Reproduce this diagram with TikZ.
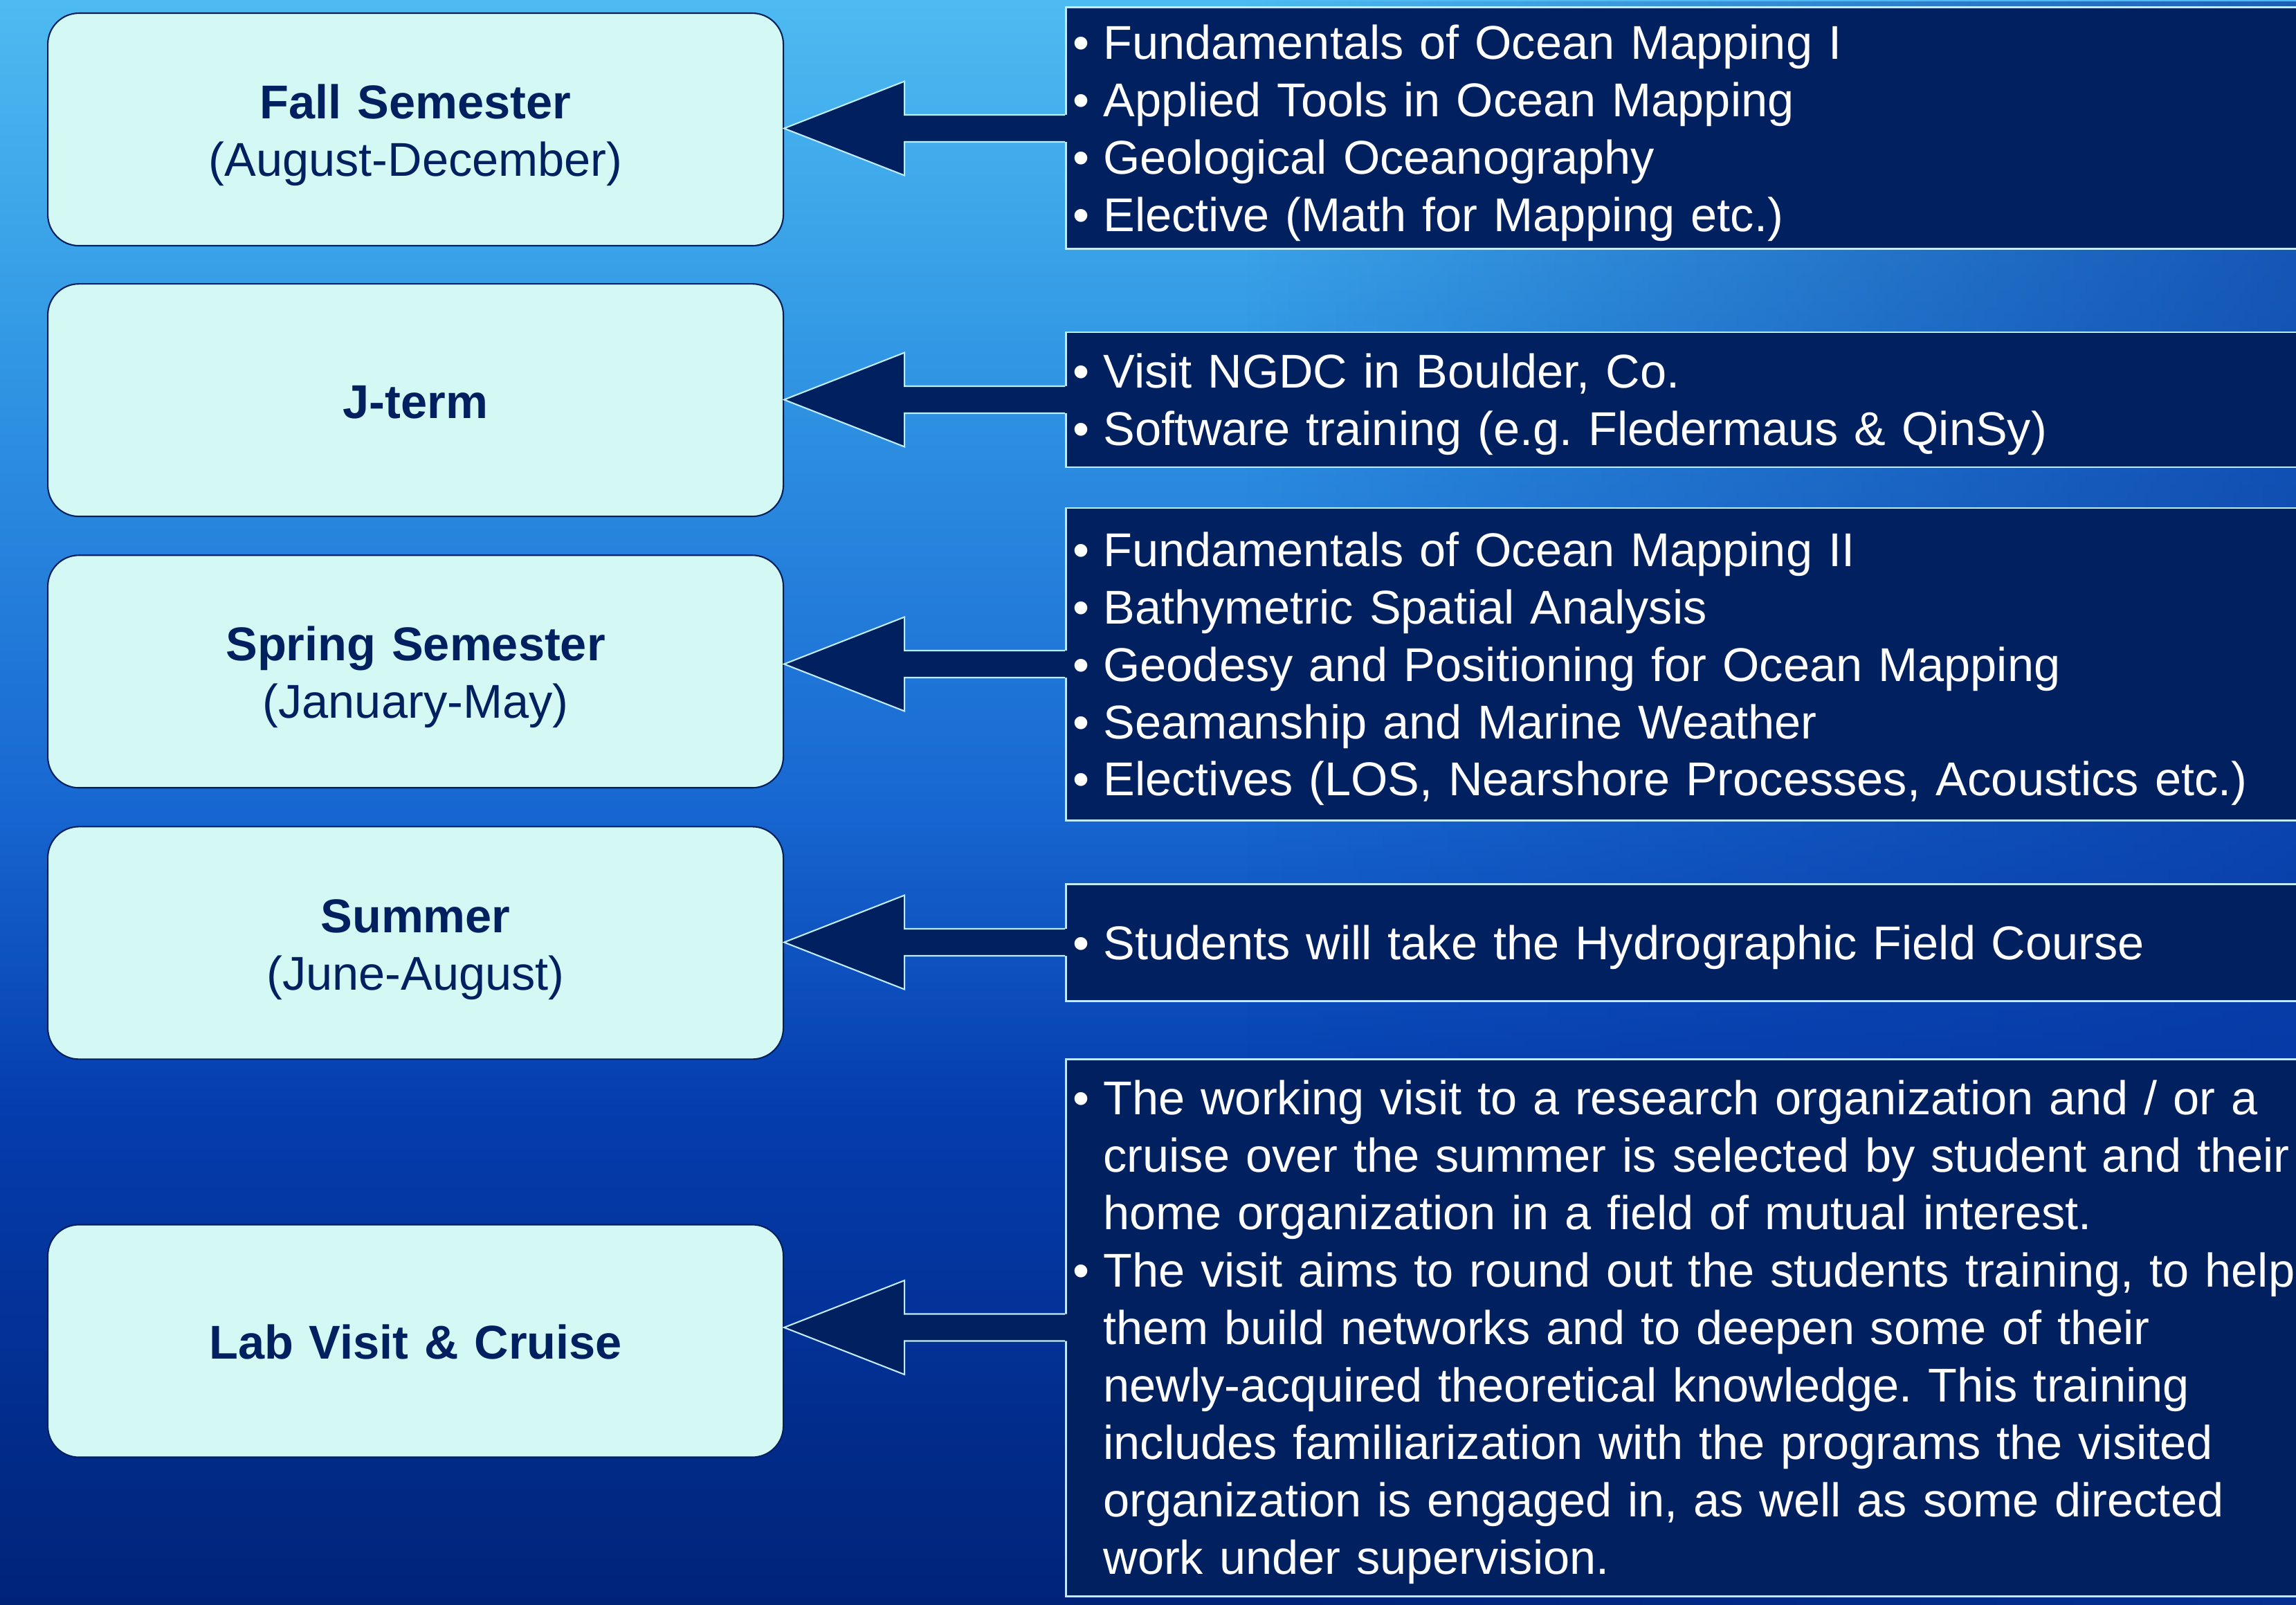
\documentclass[tikz,border=0pt]{standalone}
\usepackage{fontspec}
\setmainfont{Liberation Sans}[WordSpace=0.89]
\usetikzlibrary{positioning,calc,fadings}

\definecolor{navy}{HTML}{002060}
\definecolor{deepblue}{HTML}{0636A0}
\definecolor{paleaqua}{HTML}{D4F8F4}
\definecolor{rim}{HTML}{C2ECF5}
\definecolor{skyA}{HTML}{4DBBF1}
\definecolor{skyB}{HTML}{3298E4}
\definecolor{skyC}{HTML}{1868D2}
\definecolor{skyD}{HTML}{053DAE}
\definecolor{skyE}{HTML}{002378}

\tikzfading[name=darkright, left color=transparent!100, right color=transparent!30]
\tikzfading[name=streak, left color=transparent!100, middle color=transparent!55, right color=transparent!100]

\newcommand\bigtext{\fontsize{19.5}{23.6}\selectfont\frenchspacing}
\newcommand\blt{\makebox[0.44cm][l]{\textbullet}}
\newcommand\hang{\hspace*{0.44cm}}
\newcommand\botstrut{\rule[-4.2pt]{0pt}{4.2pt}}

\tikzset{
  termbox/.style={draw=navy, line width=0.6pt, fill=paleaqua, rounded corners=0.45cm,
    minimum width=10.63cm, minimum height=3.36cm, text width=10.2cm, align=center,
    text=navy, inner sep=0pt,
    execute at begin node=\rule{0pt}{19.1pt}, execute at end node=\botstrut},
  listbox/.style={draw=rim, line width=0.85pt, fill=navy, text=white, anchor=west,
    align=left, text width=18.5cm, inner xsep=0.10cm, inner ysep=0pt,
    execute at begin node=\rule{0pt}{18.2pt}, execute at end node=\botstrut},
}

%block arrow from a course list (#1) back to its term (#2)
\newcommand\semarrow[2]{%
  \coordinate (tip) at (#2.east |- #1.west);
  \fill[navy] (tip) -- ++(1.74,0.68) -- ++(0,-0.485)
    -- ($(#1.west)+(0.06,0.195)$) -- ($(#1.west)+(0.06,-0.195)$)
    -- ($(tip)+(1.74,-0.195)$) -- ++(0,-0.485) -- cycle;
  \draw[rim, line width=0.6pt]
    ($(#1.west)+(0,0.195)$) -- ($(tip)+(1.74,0.195)$) -- ++(0,0.485) -- (tip)
    -- ++(1.74,-0.68) -- ++(0,0.485) -- ($(#1.west)+(0,-0.195)$);
}

\begin{document}
\begin{tikzpicture}[font=\bigtext]
\useasboundingbox (0,0) rectangle (33.18,-23.19);
\clip (0,0) rectangle (33.18,-23.19);
%ocean background
\shade[top color=skyA, bottom color=skyB] (0,0) rectangle (33.18,-5.01);
\shade[top color=skyB, bottom color=skyC] (0,-5) rectangle (33.18,-11.51);
\shade[top color=skyC, bottom color=skyD] (0,-11.5) rectangle (33.18,-16.01);
\shade[top color=skyD, bottom color=skyE] (0,-16) rectangle (33.18,-23.19);
\fill[deepblue, path fading=darkright] (18,0) rectangle (33.18,-23.19); %darker towards the right
\fill[skyC, path fading=streak] (12.4,-11) rectangle (17,-23.19); %light streak under the arrows

%course lists
\node[listbox, minimum height=3.49cm] (fallL) at (15.39,-1.855)
  {\blt Fundamentals of Ocean Mapping I\\
   \blt Applied Tools in Ocean Mapping\\
   \blt Geological Oceanography\\
   \blt Elective (Math for Mapping etc.)};
\node[listbox, minimum height=1.95cm] (jtermL) at (15.39,-5.775)
  {\blt Visit NGDC in Boulder, Co.\\
   \blt Software training (e.g. Fledermaus \& QinSy)};
\node[listbox, minimum height=4.51cm] (springL) at (15.39,-9.595)
  {\blt Fundamentals of Ocean Mapping II\\
   \blt Bathymetric Spatial Analysis\\
   \blt Geodesy and Positioning for Ocean Mapping\\
   \blt Seamanship and Marine Weather\\
   \blt Electives (LOS, Nearshore Processes, Acoustics etc.)};
\node[listbox, minimum height=1.69cm] (summerL) at (15.39,-13.615)
  {\blt Students will take the Hydrographic Field Course};
\node[listbox, minimum height=7.76cm] (labL) at (15.39,-19.18)
  {\blt The working visit to a research organization and / or a\\
   \hang cruise over the summer is selected by student and their\\
   \hang home organization in a field of mutual interest.\\
   \blt The visit aims to round out the students training, to help\\
   \hang them build networks and to deepen some of their\\
   \hang newly-acquired theoretical knowledge. This training\\
   \hang includes familiarization with the programs the visited\\
   \hang organization is engaged in, as well as some directed\\
   \hang work under supervision.};

%terms
\node[termbox, anchor=north west] (fall) at (0.68,-0.18) {\textbf{Fall Semester}\\(August-December)};
\node[termbox, below=0.53cm of fall] (jterm) {\textbf{J-term}};
\node[termbox, below=0.54cm of jterm] (spring) {\textbf{Spring Semester}\\(January-May)};
\node[termbox, below=0.54cm of spring] (summer) {\textbf{Summer}\\(June-August)};
\node[termbox, below=2.37cm of summer] (lab) {\textbf{Lab Visit \& Cruise}};

%arrows
\semarrow{fallL}{fall}
\semarrow{jtermL}{jterm}
\semarrow{springL}{spring}
\semarrow{summerL}{summer}
\semarrow{labL}{lab}
\end{tikzpicture}
\end{document}
